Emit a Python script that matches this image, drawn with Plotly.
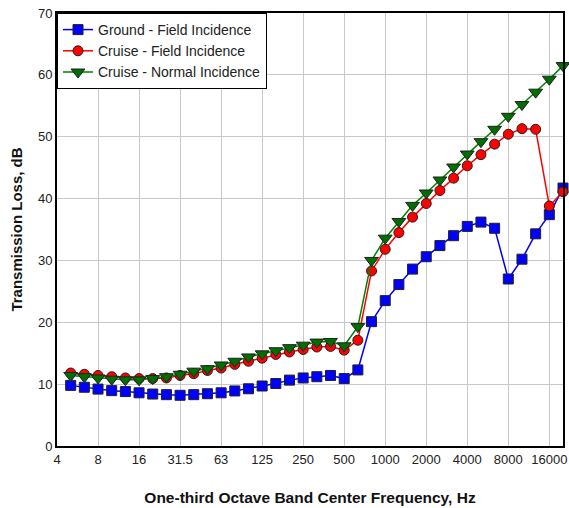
import plotly.graph_objects as go

# One-third octave band centre frequencies (category labels); "4" is the axis origin
bands = ["4", "5", "6.3", "8", "10", "12.5", "16", "20", "25", "31.5", "40", "50", "63",
         "80", "100", "125", "160", "200", "250", "315", "400", "500", "630", "800",
         "1000", "1250", "1600", "2000", "2500", "3150", "4000", "5000", "6300", "8000",
         "10000", "12500", "16000", "20000"]
freqs = bands[1:]

ground_field = [9.8, 9.5, 9.2, 8.95, 8.8, 8.6, 8.4, 8.3, 8.2, 8.3, 8.45, 8.6, 8.9, 9.25,
                9.7, 10.1, 10.65, 11.0, 11.2, 11.4, 10.9, 12.3, 20.1, 23.5, 26.1, 28.6,
                30.6, 32.4, 34.0, 35.5, 36.2, 35.2, 27.0, 30.2, 34.3, 37.4, 41.7]
cruise_field = [11.8, 11.6, 11.4, 11.2, 11.0, 10.9, 10.9, 11.0, 11.4, 11.7, 12.2, 12.6,
                13.2, 13.7, 14.2, 14.8, 15.2, 15.6, 16.0, 16.1, 15.5, 17.1, 28.3, 31.8,
                34.5, 37.0, 39.2, 41.3, 43.3, 45.3, 47.1, 48.8, 50.4, 51.3, 51.2, 38.8, 41.1]
cruise_normal = [11.4, 11.2, 11.0, 10.8, 10.7, 10.7, 10.9, 11.2, 11.6, 12.1, 12.5, 13.1,
                 13.7, 14.4, 14.9, 15.4, 15.9, 16.3, 16.8, 16.9, 16.2, 19.3, 30.0, 33.6,
                 36.3, 38.9, 40.9, 43.0, 45.1, 47.2, 49.2, 51.2, 53.3, 55.2, 57.2, 59.3, 61.5]

tick_labels = ["4", "8", "16", "31.5", "63", "125", "250", "500", "1000", "2000", "4000",
               "8000", "16000"]
y_ticks = [0, 10, 20, 30, 40, 50, 60, 70]

FONT = "Arial, Liberation Sans, sans-serif"

fig = go.Figure()
series = [
    ("Ground - Field Incidence", ground_field, "#0000ff", "#0000ff", "square", 10),
    ("Cruise - Field Incidence", cruise_field, "#ff0000", "#ff0000", "circle", 10),
    ("Cruise - Normal Incidence", cruise_normal, "#008000", "#006e00", "triangle-down", 12),
]
for name, vals, lc, mc, sym, sz in series:
    fig.add_trace(go.Scatter(
        x=freqs, y=vals, name=name, mode="lines+markers",
        line=dict(color=lc, width=1.5),
        marker=dict(symbol=sym, size=sz, color=mc, line=dict(color="#202020", width=1)),
        cliponaxis=False,
    ))

fig.update_layout(
    width=569, height=508, autosize=False,
    margin=dict(l=57, r=6, t=13, b=62),
    paper_bgcolor="white", plot_bgcolor="white",
    font=dict(family=FONT, size=13, color="#222222"),
    showlegend=True,
    legend=dict(x=0, y=1, xanchor="left", yanchor="top",
                bgcolor="white", bordercolor="black", borderwidth=1,
                font=dict(family=FONT, size=14, color="#222222"),
                tracegroupgap=0, itemwidth=30),
)
fig.update_xaxes(
    type="category", categoryorder="array", categoryarray=bands,
    range=[0, len(bands) - 1], automargin=False,
    tickmode="array", tickvals=tick_labels, ticktext=tick_labels,
    showgrid=True, gridcolor="#c8c8c8", gridwidth=1,
    showline=True, linecolor="black", linewidth=2, mirror=True,
    ticks="", zeroline=False,
    title=dict(text="<b>One-third Octave Band Center Frequency, Hz</b>",
               font=dict(family=FONT, size=15.5, color="#111111"), standoff=27),
    tickfont=dict(family=FONT, size=13, color="#222222"),
)
fig.update_yaxes(
    range=[0, 70], tickmode="array", tickvals=y_ticks, automargin=False,
    showgrid=True, gridcolor="#c8c8c8", gridwidth=1,
    showline=True, linecolor="black", linewidth=2, mirror=True,
    ticks="", zeroline=False,
    title=dict(text="<b>Transmission Loss, dB</b>",
               font=dict(family=FONT, size=15, color="#111111"), standoff=12),
    tickfont=dict(family=FONT, size=13, color="#222222"),
)

fig.write_html("out.html")
